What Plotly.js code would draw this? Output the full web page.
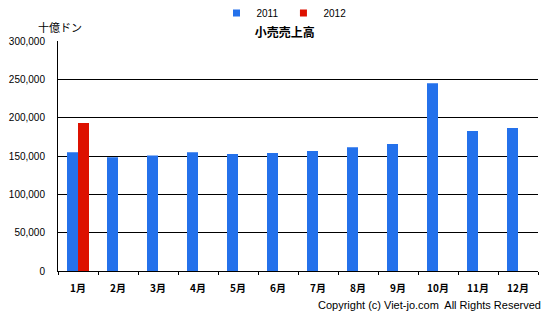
<!DOCTYPE html>
<html><head><meta charset="utf-8">
<script src="https://cdn.plot.ly/plotly-3.0.1.min.js"></script>
<style>html,body{margin:0;padding:0;background:#fff;}#chart{width:553px;height:317px;}</style>
</head><body><div id="chart"></div>
<script>
const months = ['1月','2月','3月','4月','5月','6月','7月','8月','9月','10月','11月','12月'];
const sales2011 = [155000,148500,150500,155000,152500,154000,156500,161500,165500,245000,182500,186500];
const sales2012 = [193000,null,null,null,null,null,null,null,null,null,null,null];
const yTicks = [0,50000,100000,150000,200000,250000,300000];
const seriesNames = ['2011','2012'];
const seriesColors = ['rgb(36,113,235)','rgb(221,17,0)'];

const jp = '"Noto Sans CJK JP", "Noto Sans", sans-serif';
const traces = [
  {type:'bar', name:seriesNames[0], x:months, y:sales2011, marker:{color:seriesColors[0]}, showlegend:false, legendgroup:'a'},
  {type:'bar', name:seriesNames[1], x:months, y:sales2012, marker:{color:seriesColors[1]}, showlegend:false, legendgroup:'b'},
  // legend entries with small square swatches
  {type:'scatter', mode:'markers', name:seriesNames[0], x:[null], y:[null], legendgroup:'a',
    marker:{symbol:'square', size:7, color:seriesColors[0]}, hoverinfo:'skip'},
  {type:'scatter', mode:'markers', name:seriesNames[1], x:[null], y:[null], legendgroup:'b',
    marker:{symbol:'square', size:7, color:seriesColors[1]}, hoverinfo:'skip'}
];
const layout = {
  width:553, height:317,
  margin:{l:58, r:15, t:41, b:46},
  paper_bgcolor:'#fff', plot_bgcolor:'#fff',
  barmode:'group', bargap:0.45, bargroupgap:0,
  showlegend:true,
  legend:{orientation:'h', xref:'container', yref:'container', x:284/553, xanchor:'center', y:1-13/317, yanchor:'middle',
    font:{family:'"Liberation Sans", Arial, sans-serif', size:10, color:'#000'},
    itemwidth:30, tracegroupgap:0, bgcolor:'rgba(0,0,0,0)'},
  title:{text:'<b>小売売上高</b>', x:0.515, xanchor:'center', y:1-33/317, yanchor:'middle',
    font:{family:jp, size:12, color:'#000'}},
  xaxis:{type:'category', showline:true, linecolor:'#000', linewidth:1,
    ticks:'outside', tickson:'boundaries', ticklen:3, tickcolor:'#000',
    showgrid:false, tickfont:{family:jp, size:10, color:'#000', weight:'bold'},
    ticklabelstandoff:8, fixedrange:true},
  yaxis:{range:[0,300000], tickvals:yTicks, tickformat:',', showline:true, linecolor:'#000', linewidth:1,
    showgrid:true, gridcolor:'#000', gridwidth:1, zeroline:false, ticks:'',
    tickfont:{family:'"Liberation Sans", Arial, sans-serif', size:10, color:'#000'}, ticklabelstandoff:10},
  annotations:[
    {text:'十億ドン', xref:'paper', yref:'paper', x:0.004, y:1+(41-27)/230, xanchor:'center', yanchor:'middle',
      showarrow:false, font:{family:jp, size:11, color:'#000'}},
    {text:'Copyright (c) Viet-jo.com  All Rights Reserved', xref:'paper', yref:'paper', x:(543-58)/480, y:-(305-271)/230,
      xanchor:'right', yanchor:'middle', showarrow:false,
      font:{family:'"Liberation Sans", Arial, sans-serif', size:11, color:'#000'}}
  ]
};
Plotly.newPlot('chart', traces, layout, {displayModeBar:false, staticPlot:true});
</script></body></html>
